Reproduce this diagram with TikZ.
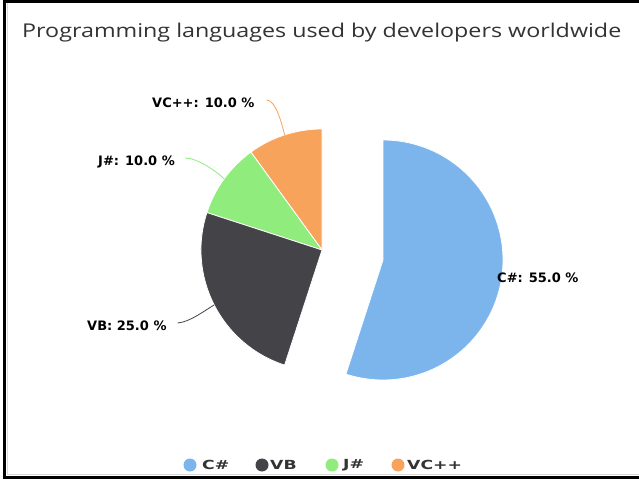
\documentclass[tikz,border=0pt]{standalone}
\usepackage{fontspec}
\usepackage{graphicx}
\usetikzlibrary{calc}
\setmainfont{DejaVu Sans}
\newfontfamily\titlefont{Open Sans}
\newfontfamily\labelfont{DejaVu Sans}
\definecolor{csharp}{HTML}{7CB5EC}
\definecolor{vbcol}{HTML}{434348}
\definecolor{jsharp}{HTML}{90ED7D}
\definecolor{vcpp}{HTML}{F7A35C}
\definecolor{titlegray}{HTML}{333333}
% horizontally widened text
\newcommand\widetext[2]{\scalebox{#1}[1]{#2}}
\begin{document}
\begin{tikzpicture}[x=1pt,y=1pt,
  slice/.style={draw=white, line width=0.8pt, line join=round},
  datalabel/.style={anchor=west, inner sep=0pt, text=black,
    font=\labelfont\bfseries\fontsize{13}{13}\selectfont},
  legendtext/.style={anchor=west, inner sep=0pt, text=titlegray,
    font=\labelfont\bfseries\fontsize{12.5}{12.5}\selectfont},
  link/.style={line width=0.8pt}]
  \useasboundingbox (0,0) rectangle (639,479);
  % frame
  \fill[black] (3,0) rectangle (639,479);
  \fill[white] (6,3) rectangle (639,476);
  \draw[black!15, line width=0.8pt] (7,4) -- (7,476);
  \draw[black!15, line width=0.8pt] (7,4.5) -- (639,4.5);

  % title
  \node[anchor=base west, inner sep=0pt, text=titlegray,
        font=\titlefont\fontsize{19}{19}\selectfont] (title) at (22,441)
        {\widetext{1.225}{Programming languages used by developers worldwide}};

  % pie: exploded C# slice
  \coordinate (oc) at (383,219);
  \coordinate (o) at (322,229);
  \fill[csharp, slice] (oc) -- ++(90:120) arc[start angle=90, end angle=-108, radius=120] -- cycle;
  \fill[vcpp, slice] (o) -- ++(90:121) arc[start angle=90, end angle=126, radius=121] -- cycle;
  \fill[jsharp, slice] (o) -- ++(126:121) arc[start angle=126, end angle=162, radius=121] -- cycle;
  \fill[vbcol, slice] (o) -- ++(162:121) arc[start angle=162, end angle=252, radius=121] -- cycle;

  % connector ends on the slice rims
  \coordinate (evcpp) at ($(o)+(108:121)$);
  \coordinate (ejs) at ($(o)+(144:121)$);
  \coordinate (evb) at ($(o)+(207:121)$);

  % data labels
  \node[datalabel] (lvcpp) at (152,376) {VC++: 10.0 \%};
  \node[datalabel] (ljs) at (98,317) {J\#: 10.0 \%};
  \node[datalabel] (lvb) at (87,153) {VB: 25.0 \%};
  \node[datalabel] (lcs) at (497,201) {C\#: 55.0 \%};

  % connectors
  \draw[link, vcpp] ([xshift=12pt,yshift=3pt]lvcpp.east) .. controls +(9,0) and +(-3,12) .. (evcpp);
  \draw[link, jsharp] ([xshift=10pt,yshift=4pt]ljs.east) .. controls +(12,0) and +(-8,8) .. (ejs);
  \draw[link, vbcol] ([xshift=11pt,yshift=3pt]lvb.east) .. controls +(12,1) and +(-10,-6) .. (evb);

  % legend
  \fill[csharp] (190,14) circle[radius=6.5] coordinate (mcs);
  \fill[vbcol] (262,14) circle[radius=6.5] coordinate (mvb);
  \fill[jsharp] (332,14) circle[radius=6.5] coordinate (mjs);
  \fill[vcpp] (398,14) circle[radius=6.5] coordinate (mvc);
  \node[legendtext] (tcs) at (202,14) {\widetext{1.38}{C\#}};
  \node[legendtext] (tvb) at (270,14) {\widetext{1.38}{VB}};
  \node[legendtext] (tjs) at (343,14) {\widetext{1.38}{J\#}};
  \node[legendtext] (tvc) at (407,14) {\widetext{1.38}{VC++}};
\end{tikzpicture}
\end{document}
